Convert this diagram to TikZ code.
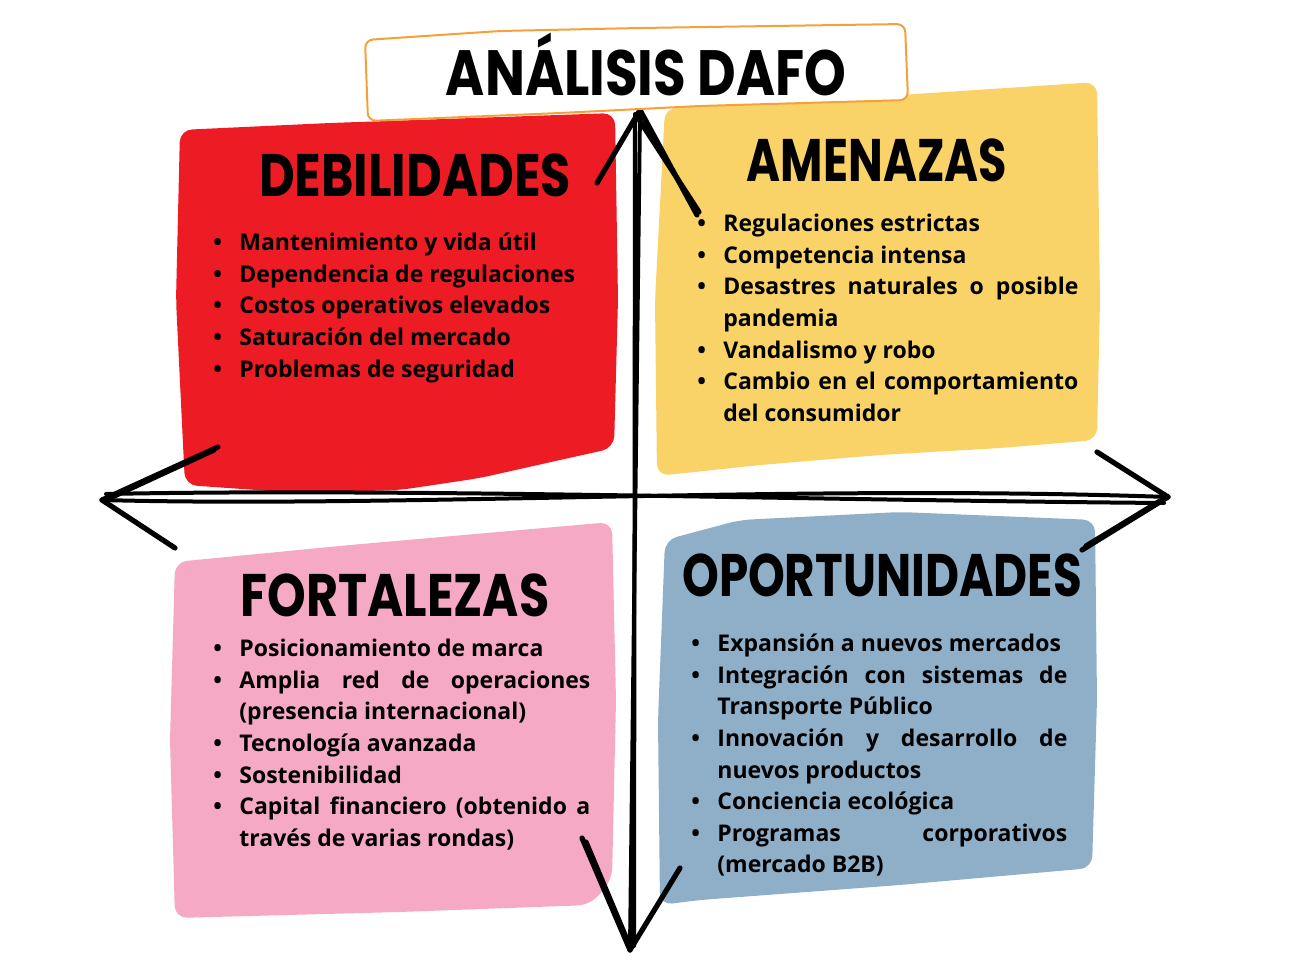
\documentclass[tikz,border=0pt]{standalone}
\usepackage{fontspec}
\setmainfont{Open Sans}
\newfontfamily\handfont{Poppins}
\usepackage{graphicx}
\usetikzlibrary{calc,positioning}

\definecolor{dafored}{HTML}{ED1C24}
\definecolor{dafoyellow}{HTML}{F9D367}
\definecolor{dafopink}{HTML}{F5A9C5}
\definecolor{dafoblue}{HTML}{8FAFC9}
\definecolor{dafoorange}{HTML}{F5A03A}

\hyphenpenalty=10000
\exhyphenpenalty=10000
\newcommand{\itm}{\par\noindent\hangindent=13pt\hangafter=1\makebox[13pt][l]{\textbullet}}
\newcommand{\hand}[2][0.8]{\scalebox{#1}[1]{#2}}

\begin{document}
\begin{tikzpicture}[x=0.5pt,y=-0.5pt]

\tikzset{
  quadrant/.style={rounded corners=6pt},
  heading/.style={font=\handfont\bfseries\fontsize{30}{30}\selectfont, inner sep=0pt},
  itemlist/.style={font=\bfseries\fontsize{11.5}{15.8}\selectfont, align=justify,
                   anchor=base west, inner sep=0pt},
  axisline/.style={black, line width=2pt, line cap=round, line join=round},
  tipline/.style={axisline, line width=2.6pt}
}

\useasboundingbox (0,0) rectangle (1292,969);

% Quadrants
\fill[quadrant, dafored] (180,130) -- (330,123) -- (615,113) -- (618,300) -- (614,448)
  -- (560,460) -- (480,478) -- (400,490) -- (300,493) -- (185,485) -- (176,300) -- cycle;
\fill[quadrant, dafoyellow] (665,108) -- (900,95) -- (1097,82) -- (1100,300) -- (1097,440)
  -- (1000,448) -- (880,455) -- (760,465) -- (657,476) -- (655,300) -- cycle;
\fill[quadrant, dafopink] (175,562) -- (350,545) -- (612,522) -- (616,700) -- (612,880)
  -- (590,905) -- (400,912) -- (175,918) -- (170,740) -- cycle;
\fill[quadrant, dafoblue] (665,540) -- (740,520) -- (900,512) -- (1095,520) -- (1097,700)
  -- (1092,868) -- (900,885) -- (700,900) -- (660,905) -- (658,720) -- cycle;

% Axes
\coordinate (ntip) at (640,110);
\coordinate (stip) at (630,950);
\coordinate (wtip) at (102,500);
\coordinate (etip) at (1168,497);

\draw[axisline] (ntip) -- (stip);
\draw[axisline] ($(ntip)+(-5,4)$) -- ($(stip)+(4,-4)$);
\draw[axisline] (wtip) .. controls (400,508) and (800,484) .. (etip);
\draw[axisline] ($(wtip)+(4,-6)$) .. controls (400,488) and (800,500) .. ($(etip)+(-4,6)$);

\draw[tipline] (ntip) -- (597,183);
\draw[tipline] (ntip) -- (697,215);
\draw[tipline] ($(ntip)+(-2,8)$) -- (699,212);
\draw[tipline] (stip) -- (582,838);
\draw[tipline] (stip) -- (680,868);
\draw[tipline] ($(stip)+(-2,-8)$) -- (586,842);
\draw[tipline] (wtip) -- (218,447);
\draw[tipline] (wtip) -- (175,548);
\draw[tipline] ($(wtip)+(8,-2)$) -- (214,450);
\draw[tipline] (etip) -- (1097,452);
\draw[tipline] (etip) -- (1082,550);
\draw[tipline] ($(etip)+(-8,4)$) -- (1086,546);

% Title
\draw[quadrant, rounded corners=4pt, fill=white, draw=dafoorange, line width=1pt]
  (365,40) -- (500,31) -- (640,28) -- (905,24) -- (908,100) -- (700,106)
  -- (560,113) -- (368,121) -- cycle;
\node[heading, font=\handfont\bfseries\fontsize{32}{32}\selectfont] (title) at (646,64) {\hand[0.83]{ANÁLISIS DAFO}};

% Headings
\node[heading] (deb) at (415,175) {\hand[0.82]{DEBILIDADES}};
\node[heading] (ame) at (877,160) {\hand[0.77]{AMENAZAS}};
\node[heading] (fort) at (395,595) {\hand[0.82]{FORTALEZAS}};
\node[heading] (opor) at (882,575) {\hand[0.78]{OPORTUNIDADES}};

% Lists
\node[itemlist, text width=188.5pt] (deblist) at (213,219) {%
  \itm Mantenimiento y vida útil
  \itm Dependencia de regulaciones
  \itm Costos operativos elevados
  \itm Saturación del mercado
  \itm Problemas de seguridad\par};
\node[itemlist, text width=190.5pt] (amelist) at (697,200) {%
  \itm Regulaciones estrictas
  \itm Competencia intensa
  \itm Desastres naturales o posible\linebreak pandemia
  \itm Vandalismo y robo
  \itm Cambio en el comportamiento\linebreak del consumidor\par};
\node[itemlist, text width=188.5pt] (fortlist) at (213,625) {%
  \itm Posicionamiento de marca
  \itm Amplia red de operaciones\linebreak (presencia internacional)
  \itm Tecnología avanzada
  \itm Sostenibilidad
  \itm Capital financiero (obtenido a\linebreak través de varias rondas)\par};
\node[itemlist, text width=188pt] (oporlist) at (691,620) {%
  \itm Expansión a nuevos mercados
  \itm Integración con sistemas de\linebreak Transporte Público
  \itm Innovación y desarrollo de\linebreak nuevos productos
  \itm Conciencia ecológica
  \itm Programas corporativos\linebreak (mercado B2B)\par};

\end{tikzpicture}
\end{document}
